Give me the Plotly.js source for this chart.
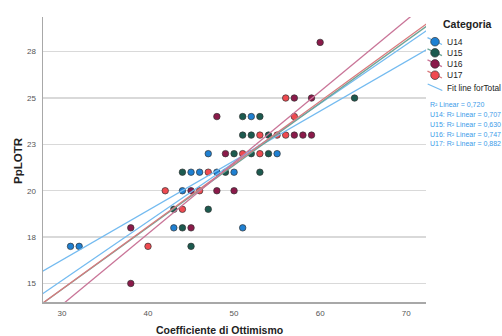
<!DOCTYPE html>
<html>
<head>
<meta charset="utf-8">
<script src="https://cdn.plot.ly/plotly-3.0.1.min.js"></script>
<style>
html,body{margin:0;padding:0;background:#fff;}
#chart{width:502px;height:336px;}
</style>
</head>
<body>
<div id="chart"></div>
<script>
// ---- data ----
const groups = ['U14', 'U15', 'U16', 'U17'];
const u14X = [31, 32, 43, 51, 44, 45, 46, 48, 50, 47, 55, 52];
const u14Y = [17, 17, 18, 18, 20, 21, 21, 21, 21, 22, 22, 24];
const u15X = [45, 44, 43, 47, 44, 49, 53, 50, 52, 54, 51, 52, 54, 51, 53, 64];
const u15Y = [17, 18, 19, 19, 21, 21, 21, 22, 22, 22, 23, 23, 23, 24, 24, 25];
const u16X = [38, 38, 45, 45, 48, 50, 49, 48, 57, 58, 59, 57, 59, 60];
const u16Y = [15, 18, 18, 20, 20, 20, 22, 24, 23, 23, 23, 25, 25, 28];
const u17X = [40, 44, 42, 46, 47, 51, 53, 53, 55, 56, 56, 57];
const u17Y = [17, 19, 20, 20, 21, 22, 22, 23, 23, 23, 25, 24];

// fit lines: y = intercept + slope * x
const fitNames = ['Total', 'U14', 'U15', 'U16', 'U17'];
const fitIntercept = [5.62, 8.22, 4.63, 2.33, 4.56];
const fitSlope = [0.318, 0.268, 0.335, 0.3838, 0.3377];
const fitXEnds = [27, 73];
const r2Labels = ['R\u00b2 Linear = 0,720', 'U14: R\u00b2 Linear = 0,707', 'U15: R\u00b2 Linear = 0,630',
                  'U16: R\u00b2 Linear = 0,747', 'U17: R\u00b2 Linear = 0,882'];

const yTickVals = [15, 17.5, 20, 22.5, 25, 27.5];
const yTickText = ['15', '18', '20', '23', '25', '28'];
const xTickVals = [30, 40, 50, 60, 70];

// ---- styles ----
const markerColors = ['#1f80d2', '#1c5a4f', '#8b1a4a', '#ef4a50'];
const fitColors = ['#74bbf0', '#74bbf0', '#6fa597', '#c97598', '#d9797c'];
const groupX = [u14X, u15X, u16X, u17X];
const groupY = [u14Y, u15Y, u16Y, u17Y];

const traces = [];
groups.forEach((g, i) => {
  traces.push({
    type: 'scatter', mode: 'markers', name: g,
    x: groupX[i], y: groupY[i],
    marker: {size: 6.5, color: markerColors[i], line: {color: '#333', width: 0.7}},
    showlegend: false, hoverinfo: 'skip'
  });
});
// draw fit lines: order so pink / red on top like reference
[1, 0, 2, 4, 3].forEach(k => {
  traces.push({
    type: 'scatter', mode: 'lines', name: fitNames[k],
    x: fitXEnds, y: fitXEnds.map(x => fitIntercept[k] + fitSlope[k] * x),
    line: {color: fitColors[k], width: 1.3},
    showlegend: false, hoverinfo: 'skip'
  });
});

// pixel helpers for legend decoration (plot area 43..426 x 17..302)
const L = 43, R = 426, T = 17, B = 302;
const px = v => (v - L) / (R - L);
const py = v => (B - v) / (B - T);

const shapes = [];
const annotations = [];
const fontFam = 'Liberation Sans, Arial, sans-serif';

annotations.push({xref: 'paper', yref: 'paper', x: px(440.7), y: py(24), xanchor: 'left', yanchor: 'middle',
  text: '<b>Categoria</b>', showarrow: false, font: {family: fontFam, size: 10.5, color: '#222'}});
const legY = [41.7, 52.8, 63.9, 75.2];
groups.forEach((g, i) => {
  const cx = 435, cy = legY[i];
  shapes.push({type: 'line', xref: 'paper', yref: 'paper', x0: px(cx - 7.5), y0: py(cy - 4), x1: px(cx + 7), y1: py(cy + 2.8),
    line: {color: fitColors[i + 1], width: 1.3}});
  shapes.push({type: 'circle', xref: 'paper', yref: 'paper', x0: px(cx - 4.3), x1: px(cx + 4.3), y0: py(cy + 4.3), y1: py(cy - 4.3),
    fillcolor: markerColors[i], line: {color: '#333', width: 0.7}});
  annotations.push({xref: 'paper', yref: 'paper', x: px(445), y: py(cy), xanchor: 'left', yanchor: 'middle',
    text: g, showarrow: false, font: {family: fontFam, size: 8.5, color: '#222'}});
});
shapes.push({type: 'line', xref: 'paper', yref: 'paper', x0: px(427.7), y0: py(84), x1: px(442.3), y1: py(90.5),
  line: {color: fitColors[0], width: 1.3}});
annotations.push({xref: 'paper', yref: 'paper', x: px(445), y: py(88.3), xanchor: 'left', yanchor: 'middle',
  text: 'Fit line forTotal', showarrow: false, font: {family: fontFam, size: 8.3, color: '#222'}});

const r2Y = [104.2, 114.5, 124.2, 134, 143.8];
r2Labels.forEach((t, i) => {
  annotations.push({xref: 'paper', yref: 'paper', x: px(428.3), y: py(r2Y[i]), xanchor: 'left', yanchor: 'middle',
    text: t, showarrow: false, font: {family: fontFam, size: 7, color: '#3d9be9'}});
});

// axis titles
annotations.push({xref: 'paper', yref: 'paper', x: px(219), y: py(330), xanchor: 'center', yanchor: 'middle',
  text: '<b>Coefficiente di Ottimismo</b>', showarrow: false, font: {family: fontFam, size: 10.5, color: '#222'}});
annotations.push({xref: 'paper', yref: 'paper', x: px(18), y: py(160), xanchor: 'center', yanchor: 'middle', textangle: -90,
  text: '<b>PpLOTR</b>', showarrow: false, font: {family: fontFam, size: 11.5, color: '#222'}});

const layout = {
  width: 502, height: 336,
  margin: {l: 43, r: 76, t: 17, b: 34, pad: 0},
  paper_bgcolor: '#fff', plot_bgcolor: '#fff',
  showlegend: false,
  font: {family: fontFam},
  xaxis: {
    range: [27.8, 72.3], tickvals: xTickVals, ticks: '', showgrid: false, zeroline: false,
    showline: true, linecolor: '#a8a8a8', linewidth: 2,
    tickfont: {size: 8, color: '#555', family: fontFam}, ticklabelstandoff: 2
  },
  yaxis: {
    range: [14.0, 29.37], tickvals: yTickVals, ticktext: yTickText, ticks: '',
    showgrid: true, gridcolor: '#d9d9d9', gridwidth: 1.5, zeroline: false,
    showline: true, linecolor: '#a8a8a8', linewidth: 1.5,
    tickfont: {size: 8, color: '#555', family: fontFam}, ticklabelstandoff: 4
  },
  shapes: shapes,
  annotations: annotations
};

Plotly.newPlot('chart', traces, layout, {staticPlot: true, displayModeBar: false});
</script>
</body>
</html>
